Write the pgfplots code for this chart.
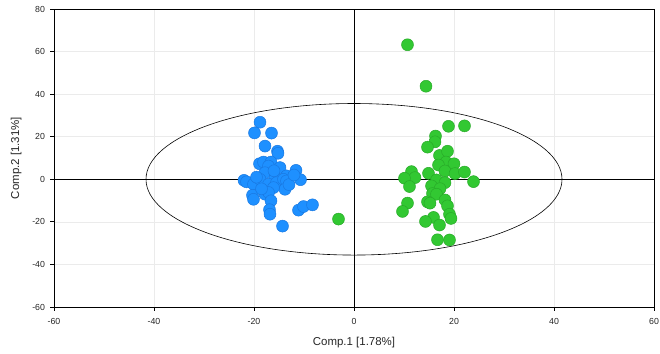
\documentclass[border=0pt]{standalone}
\usepackage{fontspec}
\setmainfont{Liberation Sans}
\usepackage{pgfplots}
\pgfplotsset{compat=1.18}
\definecolor{bluept}{RGB}{30,144,255}
\definecolor{blueedge}{RGB}{25,120,225}
\definecolor{greenpt}{RGB}{50,200,50}
\definecolor{greenedge}{RGB}{40,170,40}
\definecolor{gridc}{RGB}{235,235,235}
\begin{document}
\begin{tikzpicture}
\begin{axis}[
  name=ax,
  scale only axis,
  width=600bp, height=298bp,
  xmin=-60, xmax=60, ymin=-60, ymax=80,
  xtick={-60,-40,...,60}, ytick={-60,-40,...,80},
  grid=major,
  major grid style={draw=gridc, line width=0.6pt},
  axis line style={black, line width=0.8pt},
  tick style={black, line width=0.8pt},
  tick align=outside,
  major tick length=3.5bp,
  xtick pos=bottom, ytick pos=left,
  tick label style={font=\fontsize{8.8}{10}\selectfont, color=black!85},
  xticklabel style={yshift=-4bp},
  yticklabel style={xshift=-2bp},
  /pgf/number format/assume math mode=true,
  xlabel={Comp.1 [1.78\%]},
  ylabel={Comp.2 [1.31\%]},
  label style={font=\fontsize{11.5}{13}\selectfont, color=black!85},
  xlabel style={yshift=-6bp},
  ylabel style={yshift=4bp},
  clip=false,
]
\draw[black, line width=0.6pt] (axis cs:0,0) ellipse [x radius=41.6, y radius=35.6];
\draw[black, line width=0.8pt] (axis cs:-60,0) -- (axis cs:60,0);
\draw[black, line width=0.8pt] (axis cs:0,-60) -- (axis cs:0,80);
\addplot[only marks, mark=*, mark size=6pt, mark options={fill=bluept, draw=blueedge, line width=0.5pt}] coordinates {
(-18.8,26.8) (-19.9,21.8) (-16.5,21.7) (-17.8,15.6) (-15.3,13.2) (-15.2,12.2)
(-18.9,7.3) (-18.1,8.1) (-16.6,8.1) (-17.1,6.2) (-14.8,5.5) (-11.6,4.2)
(-17.8,3.1) (-13.5,1.6) (-15.8,0.8) (-22.0,-0.5) (-21.5,-1.2) (-20.1,-2.3)
(-18.8,0.0) (-17.1,-2.3) (-15.5,-1.6) (-14.1,0.0) (-13.5,-0.8) (-10.7,-0.2)
(-13.8,-4.7) (-16.1,-3.9) (-17.8,-7.0) (-17.1,-6.2) (-20.3,-7.5) (-20.1,-9.4)
(-16.6,-10.1) (-16.9,-14.3) (-16.8,-16.4) (-11.1,-14.5) (-10.1,-12.8) (-8.3,-12.0)
(-14.3,-22.0) (-19.5,1.0) (-16.0,4.0) (-13.0,-2.5) (-18.5,-4.5) (-12.0,2.0)
};
\addplot[only marks, mark=*, mark size=6pt, mark options={fill=greenpt, draw=greenedge, line width=0.5pt}] coordinates {
(10.7,63.2) (14.4,43.7) (18.9,24.9) (22.1,25.1) (16.3,20.3) (16.2,17.6)
(14.7,15.1) (17.1,11.2) (18.7,13.2) (18.4,8.1) (20.0,7.3) (16.9,6.7)
(18.2,3.9) (20.2,2.7) (22.1,3.4) (11.5,3.6) (12.2,0.8) (10.1,0.5)
(14.9,2.8) (11.1,-3.4) (16.5,-0.3) (18.2,-1.6) (15.5,-3.1) (17.2,-4.4)
(23.9,-1.1) (15.7,-6.7) (16.5,-7.0) (14.7,-10.6) (15.2,-11.2) (10.7,-11.2)
(18.2,-9.7) (18.7,-12.5) (9.7,-15.1) (19.1,-16.4) (19.4,-18.4) (15.9,-17.9)
(14.3,-19.8) (17.1,-21.5) (16.7,-28.4) (19.1,-28.5) (-3.1,-18.7)
};
\end{axis}
\pgfresetboundingbox
\path ([shift={(-54bp,-47bp)}]ax.south west) rectangle ([shift={(6bp,9bp)}]ax.north east);
\end{tikzpicture}
\end{document}
